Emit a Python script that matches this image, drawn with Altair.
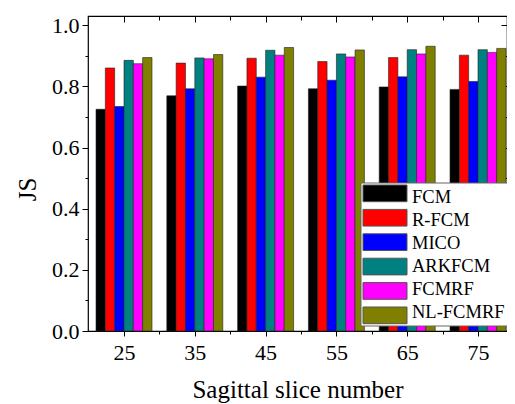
import altair as alt
import pandas as pd

slices = ["25", "35", "45", "55", "65", "75"]
methods = ["FCM", "R-FCM", "MICO", "ARKFCM", "FCMRF", "NL-FCMRF"]
colors = ["#000000", "#ff0000", "#0000ff", "#008080", "#ff00ff", "#808000"]

fcm = [0.725, 0.769, 0.801, 0.792, 0.798, 0.790]
rfcm = [0.860, 0.876, 0.892, 0.881, 0.894, 0.902]
mico = [0.734, 0.792, 0.830, 0.820, 0.831, 0.816]
arkfcm = [0.885, 0.893, 0.918, 0.906, 0.920, 0.920]
fcmrf = [0.874, 0.890, 0.902, 0.896, 0.906, 0.911]
nlfcmrf = [0.894, 0.904, 0.927, 0.919, 0.931, 0.924]

x_ticks = [25, 30, 35, 40, 45, 50, 55, 60, 65, 70, 75]
x_major = [25, 35, 45, 55, 65, 75]
x_minor = [30, 40, 50, 60, 70]
y_ticks = [0.0, 0.1, 0.2, 0.3, 0.4, 0.5, 0.6, 0.7, 0.8, 0.9, 1.0]
y_major = [0.0, 0.2, 0.4, 0.6, 0.8, 1.0]
y_minor = [0.1, 0.3, 0.5, 0.7, 0.9]

series = [fcm, rfcm, mico, arkfcm, fcmrf, nlfcmrf]
rows = []
for m, vals in zip(methods, series):
    for s, v in zip(slices, vals):
        rows.append({"slice": s, "method": m, "JS": v})
df = pd.DataFrame(rows)
xdf = pd.DataFrame({"v": x_ticks})
ldf = pd.DataFrame({"method": methods})

FONT = "Liberation Serif"
W, H = 419, 315
ydom = [0, 1.03]
xdom = [19.915, 79.09]

bars = alt.Chart(df).mark_bar(stroke="#222222", strokeWidth=0.6).encode(
    x=alt.X("slice:N", sort=slices,
            scale=alt.Scale(domain=slices, paddingInner=0.209, paddingOuter=0.0635, align=0.89),
            axis=None),
    xOffset=alt.XOffset("method:N", sort=methods, scale=alt.Scale(domain=methods)),
    y=alt.Y("JS:Q", scale=alt.Scale(domain=ydom, nice=False, zero=True),
            axis=alt.Axis(orient="left", values=y_ticks, format=".1f",
                          labelExpr="round(datum.value*10) % 2 == 0 ? datum.label : ''",
                          tickSize={"condition": {"test": "round(datum.value*10) % 2 == 0", "value": 6}, "value": 3},
                          labelPadding=3, domain=False, grid=False,
                          title="JS", titleAngle=270, titleX=-61, titleY=173,
                          titleAlign="center", titleBaseline="middle")),
    color=alt.Color("method:N", scale=alt.Scale(domain=methods, range=colors), legend=None),
)

xbottom = alt.Chart(xdf).mark_point(opacity=0).encode(
    x=alt.X("v:Q", scale=alt.Scale(domain=xdom, nice=False, zero=False),
            axis=alt.Axis(orient="bottom", values=x_ticks,
                          labelExpr="datum.value % 10 == 5 ? datum.label : ''",
                          tickSize={"condition": {"test": "datum.value % 10 == 5", "value": 5}, "value": 3},
                          labelPadding=6, domain=False, grid=False,
                          title="Sagittal slice number", titlePadding=14, titleFontSize=25)),
)

xtop_major = alt.Chart(pd.DataFrame({"v": x_major})).mark_point(opacity=0).encode(
    x=alt.X("v:Q", scale=alt.Scale(domain=xdom, nice=False, zero=False),
            axis=alt.Axis(orient="top", values=x_major, labels=False, tickSize=6, offset=-6,
                          domain=False, grid=False, title=None)),
)
xtop_minor = alt.Chart(pd.DataFrame({"v": x_minor})).mark_point(opacity=0).encode(
    x=alt.X("v:Q", scale=alt.Scale(domain=xdom, nice=False, zero=False),
            axis=alt.Axis(orient="top", values=x_minor, labels=False, tickSize=4, offset=-4,
                          domain=False, grid=False, title=None)),
)
yright_major = alt.Chart(pd.DataFrame({"v": y_major})).mark_point(opacity=0).encode(
    y=alt.Y("v:Q", scale=alt.Scale(domain=ydom, nice=False, zero=True),
            axis=alt.Axis(orient="right", values=y_major, labels=False, tickSize=6, offset=-6,
                          domain=False, grid=False, title=None)),
)
yright_minor = alt.Chart(pd.DataFrame({"v": y_minor})).mark_point(opacity=0).encode(
    y=alt.Y("v:Q", scale=alt.Scale(domain=ydom, nice=False, zero=True),
            axis=alt.Axis(orient="right", values=y_minor, labels=False, tickSize=3, offset=-3,
                          domain=False, grid=False, title=None)),
)

legend_box = alt.Chart(pd.DataFrame({"k": [0]})).mark_rect(
    fill="white", stroke="#666666", strokeWidth=1
).encode(x=alt.value(273), x2=alt.value(425), y=alt.value(167), y2=alt.value(310))

leg_y = alt.Y("method:N", sort=methods,
              scale=alt.Scale(domain=methods, range=[169, 307.7], paddingInner=0.316, paddingOuter=0),
              axis=None)
legend_sw = alt.Chart(ldf).mark_rect(stroke="#555555", strokeWidth=1).encode(
    x=alt.value(275), x2=alt.value(319), y=leg_y,
    color=alt.Color("method:N", scale=alt.Scale(domain=methods, range=colors), legend=None),
)
legend_tx = alt.Chart(ldf).mark_text(
    align="left", baseline="middle", font=FONT, fontSize=18.5, color="black"
).encode(x=alt.value(324), y=leg_y, text="method:N")

chart = alt.layer(
    bars, xbottom, xtop_major, xtop_minor, yright_major, yright_minor,
    legend_box, legend_sw, legend_tx
).resolve_scale(
    x="independent", y="independent"
).resolve_axis(
    x="independent", y="independent"
).properties(
    width=W, height=H, background="white",
    autosize=alt.AutoSizeParams(type="none"),
    padding={"left": 80, "top": 8, "right": 0, "bottom": 72},
).configure_view(
    stroke="black", strokeWidth=1.2
).configure_axis(
    labelFont=FONT, labelFontSize=22, labelColor="black",
    titleFont=FONT, titleFontSize=25, titleFontWeight="normal", titleColor="black",
    tickColor="black", tickWidth=1, labelFlush=False,
)

chart.save("out.html", embed_options={"renderer": "svg", "actions": False})
